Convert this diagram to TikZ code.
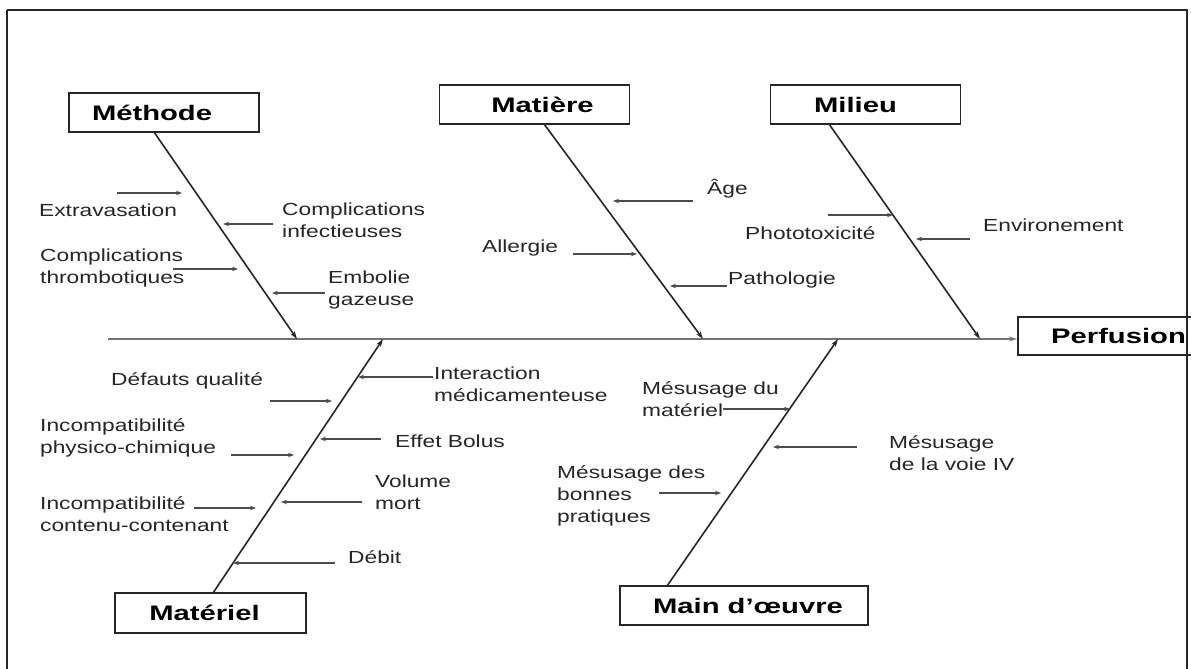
\documentclass[tikz,border=0pt]{standalone}
\usepackage{fontspec}
\setmainfont{Liberation Sans}
\usepackage{graphicx}
\usetikzlibrary{arrows.meta}
\newcommand\wx[1]{\scalebox{1.3}[1]{#1}}
\newcommand\wt[1]{\scalebox{1.39}[1]{#1}}
\definecolor{ink}{gray}{0.15}
\begin{document}
\begin{tikzpicture}[x=1pt,y=-1pt,
  lbl/.style={anchor=west,inner sep=0pt,align=left,text=ink,font=\fontsize{17.5}{22}\selectfont},
  titlebox/.style={draw=ink,line width=1.5pt,fill=white,minimum width=190pt,minimum height=39pt,inner sep=0pt,font=\fontsize{21}{25}\selectfont\bfseries},
  bone/.style={draw=ink,line width=1.6pt,-{Stealth[length=8pt,width=5pt]}},
  sub/.style={draw=black!70,line width=1.4pt,-{Stealth[length=6pt,width=4.5pt]}},
  spine/.style={draw=black!55,line width=2.2pt,-{Stealth[length=8pt,width=5pt]}}]
\useasboundingbox (0,0) rectangle (1191,669);
\clip (0,0) rectangle (1191,669);
\fill[white] (0,0) rectangle (1191,669);

% title boxes
\node[titlebox] (meth) at (164,112.5) {\hspace*{-24pt}\wt{Méthode}};
\node[titlebox] (mat) at (534.5,104.5) {\hspace*{16pt}\wt{Matière}};
\node[titlebox] (mil) at (865.5,104.5) {\hspace*{-20pt}\wt{Milieu}};
\node[titlebox,minimum width=184pt,minimum height=38pt,anchor=west] (perf) at (1017,336) {};
\node[inner sep=0pt,anchor=west,font=\fontsize{21}{25}\selectfont\bfseries] (perft) at (1051,336) {\wt{Perfusion}};
\node[titlebox,minimum width=191pt,minimum height=40pt] (mate) at (210.5,613) {\hspace*{-12pt}\wt{Matériel}};
\node[titlebox,minimum width=248pt] (main) at (744,605.5) {\hspace*{8pt}\wt{Main d'œuvre}};

% spine
\coordinate (s0) at (108,339);
\draw[spine] (s0) -- (s0 -| perf.west);

% bones
\coordinate (b1a) at (154,132); \coordinate (b1b) at (297,339);
\coordinate (b2a) at (544,124); \coordinate (b2b) at (703,339);
\coordinate (b3a) at (829,124); \coordinate (b3b) at (980,339);
\coordinate (b4a) at (213,593); \coordinate (b4b) at (383,339);
\coordinate (b5a) at (667,586); \coordinate (b5b) at (838,339);
\draw[bone] (b1a) -- (b1b);
\draw[bone] (b2a) -- (b2b);
\draw[bone] (b3a) -- (b3b);
\draw[bone] (b4a) -- (b4b);
\draw[bone] (b5a) -- (b5b);

% labels - Methode
\node[lbl] (ex) at (39,210) {\wx{Extravasation}};
\node[lbl] (ci) at (282,220) {\wx{Complications}\\\wx{infectieuses}};
\node[lbl] (ct) at (40,267.5) {\wx{Complications}\\\wx{thrombotiques}};
\node[lbl] (eg) at (328,290) {\wx{Embolie}\\\wx{gazeuse}};
% Matiere
\node[lbl] (age) at (707,189) {\wx{Âge}};
\node[lbl] (all) at (482,248) {\wx{Allergie}};
\node[lbl] (pat) at (728,280) {\wx{Pathologie}};
% Milieu
\node[lbl] (pho) at (745,233) {\wx{Phototoxicité}};
\node[lbl] (env) at (983,225) {\wx{Environement}};
% Materiel
\node[lbl] (int) at (434,384.5) {\wx{Interaction}\\\wx{médicamenteuse}};
\node[lbl] (def) at (111,381) {\wx{Défauts qualité}};
\node[lbl] (eff) at (395,441) {\wx{Effet Bolus}};
\node[lbl] (phy) at (40,438) {\wx{Incompatibilité}\\\wx{physico-chimique}};
\node[lbl] (vol) at (375,492) {\wx{Volume}\\\wx{mort}};
\node[lbl] (con) at (40,514.5) {\wx{Incompatibilité}\\\wx{contenu-contenant}};
\node[lbl] (deb) at (348,557) {\wx{Débit}};
% Main d'oeuvre
\node[lbl] (mdm) at (642,399) {\wx{Mésusage du}\\\wx{matériel}};
\node[lbl] (voi) at (889,453) {\wx{Mésusage}\\\wx{de la voie IV}};
\node[lbl] (bon) at (557,496) {\wx{Mésusage des}\\\wx{bonnes}\\\wx{pratiques}};

% sub arrows
\coordinate (a1) at (117,193); \coordinate (t1) at (182,193);
\coordinate (a2) at (273,224); \coordinate (t2) at (223,224);
\coordinate (a3) at (173,269); \coordinate (t3) at (238,269);
\coordinate (a4) at (325,293); \coordinate (t4) at (272,293);
\coordinate (a5) at (693,201); \coordinate (t5) at (613,201);
\coordinate (a6) at (573,254); \coordinate (t6) at (637,254);
\coordinate (a7) at (727,286); \coordinate (t7) at (670,286);
\coordinate (a8) at (828,215); \coordinate (t8) at (893,215);
\coordinate (a9) at (970,239); \coordinate (t9) at (916,239);
\coordinate (a10) at (433,377); \coordinate (t10) at (358,377);
\coordinate (a11) at (270,401); \coordinate (t11) at (332,401);
\coordinate (a12) at (381,439); \coordinate (t12) at (320,439);
\coordinate (a13) at (231,455); \coordinate (t13) at (294,455);
\coordinate (a14) at (362,502); \coordinate (t14) at (281,502);
\coordinate (a15) at (194,508); \coordinate (t15) at (256,508);
\coordinate (a16) at (335,563); \coordinate (t16) at (233,563);
\coordinate (a17) at (723,409); \coordinate (t17) at (790,409);
\coordinate (a18) at (857,447); \coordinate (t18) at (773,447);
\coordinate (a19) at (659,493); \coordinate (t19) at (721,493);
\foreach \i in {1,...,19} {\draw[sub] (a\i) -- (t\i);}

% frame
\draw[ink,line width=2.2pt] (7,10) -- (1187,10) -- (1187,700);
\draw[ink,line width=2.2pt] (7,10) -- (7,700);
\end{tikzpicture}
\end{document}
